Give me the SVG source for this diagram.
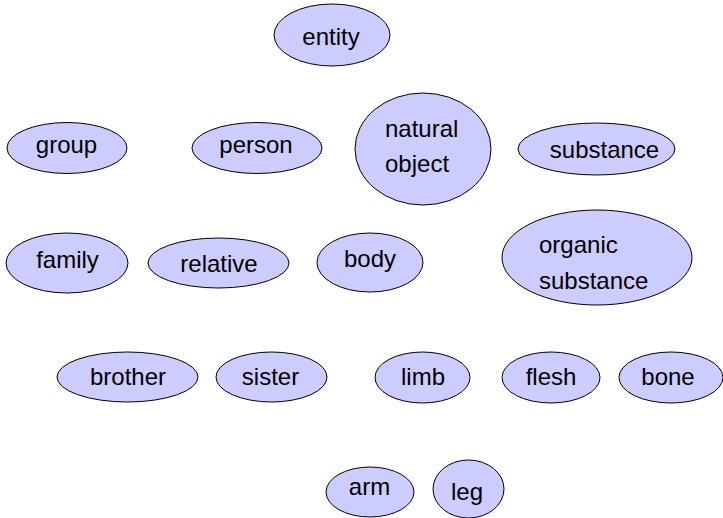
<svg xmlns="http://www.w3.org/2000/svg" width="723" height="518" viewBox="0 0 723 518">
  <style>
    .node ellipse { fill: #ccccff; stroke: #000; stroke-width: 1; }
    .node text { font-family: "Liberation Sans", Arial, sans-serif; font-size: 24px; fill: #000; }
    .c { text-anchor: middle; }
  </style>
  <rect width="723" height="518" fill="#fff"/>
  <g id="connectors"/>
  <g id="entity" class="node"><ellipse cx="332" cy="35" rx="58" ry="31"/><text class="c" x="331" y="45">entity</text></g>
  <g id="group" class="node"><ellipse cx="67" cy="148" rx="60" ry="25.5"/><text class="c" x="66.5" y="153">group</text></g>
  <g id="person" class="node"><ellipse cx="257" cy="148" rx="65" ry="25.5"/><text class="c" x="256" y="153">person</text></g>
  <g id="natural_object" class="node"><ellipse cx="423" cy="149" rx="68" ry="56"/><text x="385" y="137">natural</text><text x="385" y="172">object</text></g>
  <g id="substance" class="node"><ellipse cx="596.5" cy="149" rx="78.5" ry="26"/><text class="c" x="604.5" y="158">substance</text></g>
  <g id="family" class="node"><ellipse cx="67" cy="263" rx="61" ry="30"/><text class="c" x="67.5" y="268">family</text></g>
  <g id="relative" class="node"><ellipse cx="218.5" cy="263" rx="70.5" ry="25"/><text class="c" x="219" y="272">relative</text></g>
  <g id="body" class="node"><ellipse cx="370" cy="262.5" rx="53" ry="29.5"/><text class="c" x="370" y="267">body</text></g>
  <g id="organic_substance" class="node"><ellipse cx="597" cy="257.5" rx="95" ry="47.5"/><text x="539" y="253">organic</text><text x="539" y="289">substance</text></g>
  <g id="brother" class="node"><ellipse cx="127.5" cy="377" rx="70.5" ry="25"/><text class="c" x="128" y="385">brother</text></g>
  <g id="sister" class="node"><ellipse cx="271.5" cy="377" rx="55.5" ry="25"/><text class="c" x="270.5" y="385">sister</text></g>
  <g id="limb" class="node"><ellipse cx="422.5" cy="377.5" rx="47.5" ry="25.5"/><text class="c" x="423" y="385">limb</text></g>
  <g id="flesh" class="node"><ellipse cx="551" cy="377.5" rx="49" ry="25.5"/><text class="c" x="551" y="385">flesh</text></g>
  <g id="bone" class="node"><ellipse cx="671" cy="377.5" rx="52" ry="25.5"/><text class="c" x="668" y="385">bone</text></g>
  <g id="arm" class="node"><ellipse cx="370" cy="492" rx="44" ry="25"/><text class="c" x="369.5" y="495">arm</text></g>
  <g id="leg" class="node"><ellipse cx="468.5" cy="489" rx="35.5" ry="29"/><text class="c" x="467" y="500">leg</text></g>
</svg>
